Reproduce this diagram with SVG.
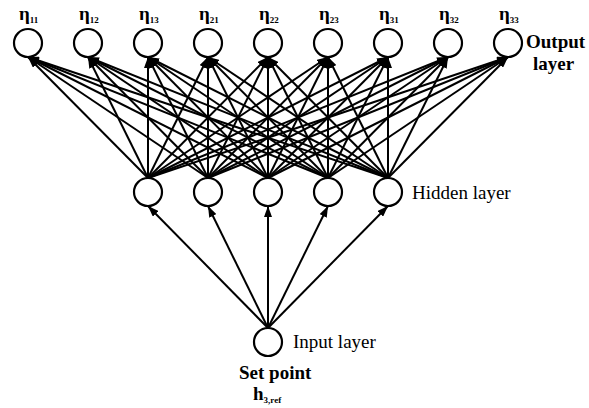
<svg xmlns="http://www.w3.org/2000/svg" width="589" height="408" viewBox="0 0 589 408">
<defs>
<marker id="ah" markerUnits="userSpaceOnUse" markerWidth="11" markerHeight="8" refX="11" refY="4" orient="auto">
<path d="M0,0 L11,4 L0,8 Z" fill="#000"/>
</marker>
<style>
.n{fill:#fff;stroke:#000;stroke-width:2.2}
.c line{stroke:#000;stroke-width:2;marker-end:url(#ah)}
.t{font-family:"Liberation Serif","Times New Roman",serif;font-size:19px;fill:#000}
.b{font-weight:bold}
.eta{font-family:"Liberation Serif","Times New Roman",serif;font-size:19px;font-weight:bold;fill:#000}
.sub{font-size:9px}
</style>
</defs>
<rect width="589" height="408" fill="#fff"/>
<g id="connectors" class="c">
<line x1="148" y1="178" x2="28" y2="57"/><line x1="148" y1="178" x2="88" y2="57"/><line x1="148" y1="178" x2="148" y2="57"/><line x1="148" y1="178" x2="208" y2="57"/><line x1="148" y1="178" x2="268" y2="57"/><line x1="148" y1="178" x2="328" y2="57"/><line x1="148" y1="178" x2="388" y2="57"/><line x1="148" y1="178" x2="448" y2="57"/><line x1="148" y1="178" x2="508" y2="57"/>
<line x1="208" y1="178" x2="28" y2="57"/><line x1="208" y1="178" x2="88" y2="57"/><line x1="208" y1="178" x2="148" y2="57"/><line x1="208" y1="178" x2="208" y2="57"/><line x1="208" y1="178" x2="268" y2="57"/><line x1="208" y1="178" x2="328" y2="57"/><line x1="208" y1="178" x2="388" y2="57"/><line x1="208" y1="178" x2="448" y2="57"/><line x1="208" y1="178" x2="508" y2="57"/>
<line x1="268" y1="178" x2="28" y2="57"/><line x1="268" y1="178" x2="88" y2="57"/><line x1="268" y1="178" x2="148" y2="57"/><line x1="268" y1="178" x2="208" y2="57"/><line x1="268" y1="178" x2="268" y2="57"/><line x1="268" y1="178" x2="328" y2="57"/><line x1="268" y1="178" x2="388" y2="57"/><line x1="268" y1="178" x2="448" y2="57"/><line x1="268" y1="178" x2="508" y2="57"/>
<line x1="328" y1="178" x2="28" y2="57"/><line x1="328" y1="178" x2="88" y2="57"/><line x1="328" y1="178" x2="148" y2="57"/><line x1="328" y1="178" x2="208" y2="57"/><line x1="328" y1="178" x2="268" y2="57"/><line x1="328" y1="178" x2="328" y2="57"/><line x1="328" y1="178" x2="388" y2="57"/><line x1="328" y1="178" x2="448" y2="57"/><line x1="328" y1="178" x2="508" y2="57"/>
<line x1="388" y1="178" x2="28" y2="57"/><line x1="388" y1="178" x2="88" y2="57"/><line x1="388" y1="178" x2="148" y2="57"/><line x1="388" y1="178" x2="208" y2="57"/><line x1="388" y1="178" x2="268" y2="57"/><line x1="388" y1="178" x2="328" y2="57"/><line x1="388" y1="178" x2="388" y2="57"/><line x1="388" y1="178" x2="448" y2="57"/><line x1="388" y1="178" x2="508" y2="57"/>
<line x1="268" y1="328" x2="148" y2="206"/><line x1="268" y1="328" x2="208" y2="206"/><line x1="268" y1="328" x2="268" y2="206"/><line x1="268" y1="328" x2="328" y2="206"/><line x1="268" y1="328" x2="388" y2="206"/>
</g>
<g id="out11"><circle class="n" cx="28" cy="43" r="14"/><text class="eta" x="19" y="20">η<tspan class="sub" dy="3">11</tspan></text></g>
<g id="out12"><circle class="n" cx="88" cy="43" r="14"/><text class="eta" x="79" y="20">η<tspan class="sub" dy="3">12</tspan></text></g>
<g id="out13"><circle class="n" cx="148" cy="43" r="14"/><text class="eta" x="139" y="20">η<tspan class="sub" dy="3">13</tspan></text></g>
<g id="out21"><circle class="n" cx="208" cy="43" r="14"/><text class="eta" x="199" y="20">η<tspan class="sub" dy="3">21</tspan></text></g>
<g id="out22"><circle class="n" cx="268" cy="43" r="14"/><text class="eta" x="259" y="20">η<tspan class="sub" dy="3">22</tspan></text></g>
<g id="out23"><circle class="n" cx="328" cy="43" r="14"/><text class="eta" x="319" y="20">η<tspan class="sub" dy="3">23</tspan></text></g>
<g id="out31"><circle class="n" cx="388" cy="43" r="14"/><text class="eta" x="379" y="20">η<tspan class="sub" dy="3">31</tspan></text></g>
<g id="out32"><circle class="n" cx="448" cy="43" r="14"/><text class="eta" x="439" y="20">η<tspan class="sub" dy="3">32</tspan></text></g>
<g id="out33"><circle class="n" cx="508" cy="43" r="14"/><text class="eta" x="499" y="20">η<tspan class="sub" dy="3">33</tspan></text></g>
<g id="outputLabel"><text class="t b" x="526" y="48" font-size="18">Output</text><text class="t b" x="533" y="70" font-size="18">layer</text></g>
<g id="hid1"><circle class="n" cx="148" cy="192" r="14"/></g>
<g id="hid2"><circle class="n" cx="208" cy="192" r="14"/></g>
<g id="hid3"><circle class="n" cx="268" cy="192" r="14"/></g>
<g id="hid4"><circle class="n" cx="328" cy="192" r="14"/></g>
<g id="hid5"><circle class="n" cx="388" cy="192" r="14"/><text class="t" x="412" y="199">Hidden layer</text></g>
<g id="input"><circle class="n" cx="268" cy="342" r="14"/><text class="t" x="293" y="348">Input layer</text><text class="t b" x="239" y="379" font-size="18">Set point</text><text class="t b" x="253" y="400" font-size="18">h<tspan font-size="9" dy="3">3,ref</tspan></text></g>
</svg>
